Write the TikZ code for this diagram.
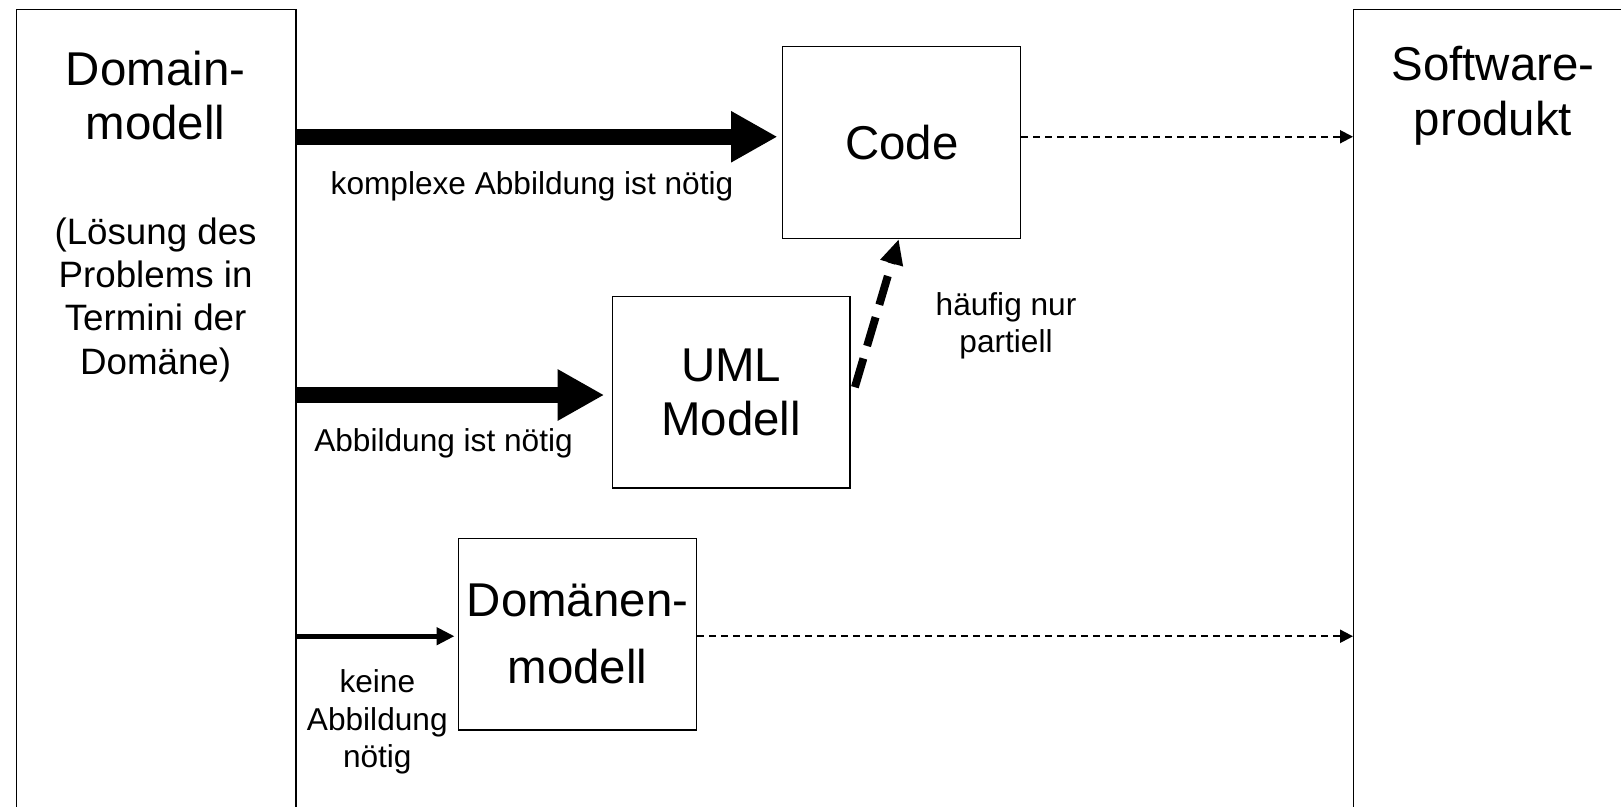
\documentclass[tikz,border=0pt]{standalone}
\usepackage{fontspec}
\setmainfont{Liberation Sans}
\usetikzlibrary{arrows.meta}

\begin{document}
\begin{tikzpicture}[x=0.02cm, y=-0.02cm,
  every node/.style={inner sep=0pt},
  box/.style={draw, line width=0.8pt, minimum width=4.76cm,
    minimum height=3.84cm, align=center,
    font=\fontsize{27}{31}\selectfont},
  side/.style={draw, line width=0.8pt, anchor=north west,
    minimum width=5.6cm, minimum height=17cm},
  titletext/.style={align=center, font=\fontsize{27}{31}\selectfont},
  notetext/.style={align=center, font=\fontsize{20.9}{24.6}\selectfont},
  labeltext/.style={align=center, font=\fontsize{18}{21.3}\selectfont},
  fat/.style={line width=9.4pt, -{Triangle[length=0.93cm, width=0.96cm]}},
  slim/.style={line width=3pt, -{Triangle[length=0.36cm, width=0.34cm]}},
  fatdash/.style={line width=4.5pt, dash pattern=on 0.6cm off 0.26cm,
    -{Triangle[length=0.5cm, width=0.44cm]}},
  dashedarrow/.style={line width=1.1pt, dash pattern=on 0.14cm off 0.1cm,
    -{Triangle[length=0.26cm, width=0.26cm]}}]
  \useasboundingbox (0,0) rectangle (1621,806);
  \clip (0,0) rectangle (1621,806);

  % outer columns
  \node[side] (dm) at (15.5,9) {};
  \node[side] (sw) at (1353,9) {};
  \node[titletext] (dmname) at (155.6,95.6) {Domain-\\modell};
  \node[notetext] (dmnote) at (155.6,299.7)
    {(Lösung des\\Problems in\\Termini der\\Domäne)};
  \node[titletext] (swname) at (1493,95.6) {Software-\\produkt};

  % models
  \node[box] (code) at (901.7,142.5) {Code};
  \node[box] (uml) at (731.2,392.2) {UML\\Modell};
  \node[box] (dom) at (577.5,634.2) {Domänen-\\[0.25cm]modell};

  % labels
  \node[labeltext] (l1) at (532,186) {komplexe Abbildung ist nötig};
  \node[labeltext] (l2) at (443.5,443.6) {Abbildung ist nötig};
  \node[labeltext] (l3) at (377.3,722) {keine\\Abbildung\\nötig};
  \node[labeltext] (l4) at (1006,325.9) {häufig nur\\partiell};

  % mappings
  \draw[fat, shorten >=0.09cm] ([yshift=0.115cm]code.west -| dm.east)
    -- ([yshift=0.115cm]code.west);
  \draw[fat, shorten >=0.146cm] ([yshift=-0.056cm]uml.west -| dm.east)
    -- ([yshift=-0.056cm]uml.west);
  \draw[slim, shorten >=0.066cm] ([yshift=-0.04cm]dom.west -| dm.east)
    -- ([yshift=-0.04cm]dom.west);
  \draw[fatdash] ([yshift=0.1cm, xshift=0.08cm]uml.east)
    -- ([xshift=-0.06cm]code.south);
  \draw[dashedarrow] ([yshift=0.115cm]code.east)
    -- ([yshift=0.115cm]code.east -| sw.west);
  \draw[dashedarrow] ([yshift=-0.04cm]dom.east)
    -- ([yshift=-0.04cm]dom.east -| sw.west);
\end{tikzpicture}
\end{document}
